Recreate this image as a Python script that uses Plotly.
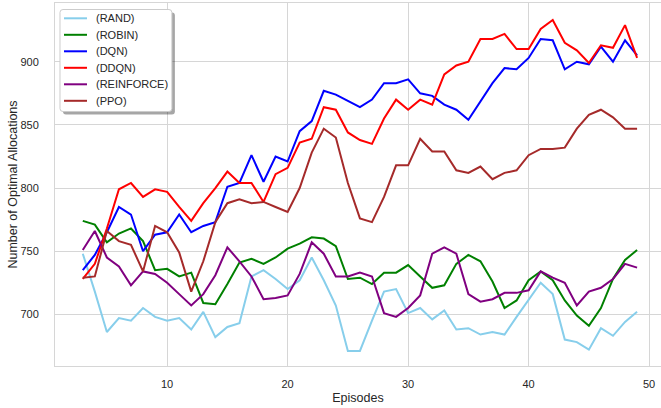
import plotly.graph_objects as go

episodes = [3, 4, 5, 6, 7, 8, 9, 10, 11, 12, 13, 14, 15, 16, 17, 18, 19, 20, 21, 22, 23, 24, 25, 26,
            27, 28, 29, 30, 31, 32, 33, 34, 35, 36, 37, 38, 39, 40, 41, 42, 43, 44, 45, 46, 47, 48, 49]

rand = [748, 718, 686, 697, 695, 705, 698, 695, 697, 688, 702, 682, 690, 693, 730, 735, 728, 720, 727,
        745, 727, 707, 671, 671, 695, 718, 720, 701, 705, 696, 703, 688, 689, 684, 686, 684, 698, 711,
        725, 716, 680, 678, 672, 689, 683, 694, 702]
robin = [774, 771, 757, 764, 768, 758, 735, 736, 730, 733, 709, 708, 724, 741, 744, 740, 745, 752, 756,
         761, 760, 754, 728, 729, 724, 733, 733, 739, 730, 721, 723, 740, 747, 742, 726, 705, 711, 727,
         734, 727, 711, 699, 691, 705, 728, 743, 751]
dqn = [735, 747, 765, 785, 779, 750, 763, 765, 779, 765, 770, 773, 801, 804, 826, 805, 825, 821, 845,
       853, 877, 874, 869, 864, 870, 883, 883, 886, 875, 873, 866, 862, 854, 869, 883, 895, 894, 903,
       918, 917, 894, 900, 898, 912, 900, 917, 905]
ddqn = [728, 740, 768, 799, 804, 793, 799, 797, 785, 774, 788, 800, 813, 804, 804, 789, 811, 816, 836,
        839, 864, 862, 844, 838, 835, 855, 870, 862, 870, 866, 890, 897, 900, 918, 918, 922, 910, 910,
        926, 933, 915, 909, 899, 913, 911, 929, 903]
reinforce = [751, 766, 745, 738, 723, 734, 732, 725, 716, 707, 716, 731, 753, 742, 730, 712, 713, 715,
             732, 757, 748, 730, 730, 733, 730, 701, 698, 705, 715, 748, 753, 748, 716, 710, 712, 717,
             717, 719, 734, 729, 725, 707, 718, 721, 728, 740, 737]
ppo = [729, 730, 766, 758, 755, 734, 770, 765, 749, 718, 742, 773, 788, 791, 788, 789, 785, 781, 800,
       828, 847, 840, 804, 776, 773, 793, 818, 818, 839, 829, 829, 814, 812, 817, 807, 812, 814, 826,
       831, 831, 832, 847, 858, 862, 856, 847, 847]

series_names = ["(RAND)", "(ROBIN)", "(DQN)", "(DDQN)", "(REINFORCE)", "(PPO)"]
series_values = [rand, robin, dqn, ddqn, reinforce, ppo]
series_colors = ["#87CEEB", "#008000", "#0000FF", "#FF0000", "#800080", "#A52A2A"]

x_ticks = [10, 20, 30, 40, 50]
y_ticks = [700, 750, 800, 850, 900]

W, H = 661, 408
ML, MR, MT, MB = 54.5, 0, 3, 42
PW, PH = W - ML - MR, H - MT - MB

def px(x):
    return (x - ML) / PW

def py(y):
    return (H - MB - y) / PH

fig = go.Figure()
for name, vals, col in zip(series_names, series_values, series_colors):
    fig.add_trace(go.Scatter(x=episodes, y=vals, mode="lines", name=name,
                             line=dict(color=col, width=2), showlegend=False))

font_family = "Liberation Sans, Arial, sans-serif"
txt = "#262626"
grid = "#d6d6d6"

# ---- legend (drawn to mimic matplotlib fancy box with shadow) ----
lx0, ly0, lx1, ly1 = 59.5, 9.5, 171.5, 111.5
r = 3.0

def rounded(x0, y0, x1, y1, rr):
    X0, X1 = px(x0), px(x1)
    Y0, Y1 = py(y0), py(y1)
    rx, ry = rr / PW, rr / PH
    return (f"M {X0+rx},{Y0} L {X1-rx},{Y0} Q {X1},{Y0} {X1},{Y0-ry} "
            f"L {X1},{Y1+ry} Q {X1},{Y1} {X1-rx},{Y1} L {X0+rx},{Y1} "
            f"Q {X0},{Y1} {X0},{Y1+ry} L {X0},{Y0-ry} Q {X0},{Y0} {X0+rx},{Y0} Z")

fig.add_shape(type="path", xref="paper", yref="paper", path=rounded(lx0 + 3, ly0 + 3, lx1 + 3, ly1 + 3, r),
              line=dict(width=0), fillcolor="rgba(0,0,0,0.35)", layer="above")
fig.add_shape(type="path", xref="paper", yref="paper", path=rounded(lx0, ly0, lx1, ly1, r),
              line=dict(width=1, color="#cccccc"), fillcolor="white", layer="above")

row0, step = 18.3, 16.5
for i, (name, col) in enumerate(zip(series_names, series_colors)):
    yy = row0 + i * step
    fig.add_shape(type="line", xref="paper", yref="paper", x0=px(63.5), x1=px(86.5), y0=py(yy), y1=py(yy),
                  line=dict(color=col, width=2), layer="above")
    fig.add_annotation(xref="paper", yref="paper", x=px(94), y=py(yy), text=name, showarrow=False,
                       xanchor="left", yanchor="middle", font=dict(size=11, color=txt, family=font_family))

fig.update_layout(
    width=W, height=H,
    margin=dict(l=ML, r=MR, t=MT, b=MB, pad=0),
    paper_bgcolor="white", plot_bgcolor="white",
    font=dict(family=font_family, size=11, color=txt),
    showlegend=False,
    xaxis=dict(range=[0.695, 50.985], tickvals=x_ticks, showgrid=True, gridcolor=grid, gridwidth=1,
               showline=True, linecolor=grid, linewidth=1, mirror=True, zeroline=False,
               ticks="", ticklabelstandoff=8, automargin=False,
               title=dict(text="Episodes", font=dict(size=12.5, color=txt), standoff=4)),
    yaxis=dict(range=[659.1, 946.5], tickvals=y_ticks, showgrid=True, gridcolor=grid, gridwidth=1,
               showline=True, linecolor=grid, linewidth=1, mirror=False, zeroline=False,
               ticks="", ticklabelstandoff=13, automargin=False,
               title=dict(text="Number of Optimal Allocations", font=dict(size=12.5, color=txt), standoff=0)),
)

fig.write_html("out.html", config={"displayModeBar": False},
               post_script="document.body.style.margin='0';document.body.style.overflow='hidden';")
